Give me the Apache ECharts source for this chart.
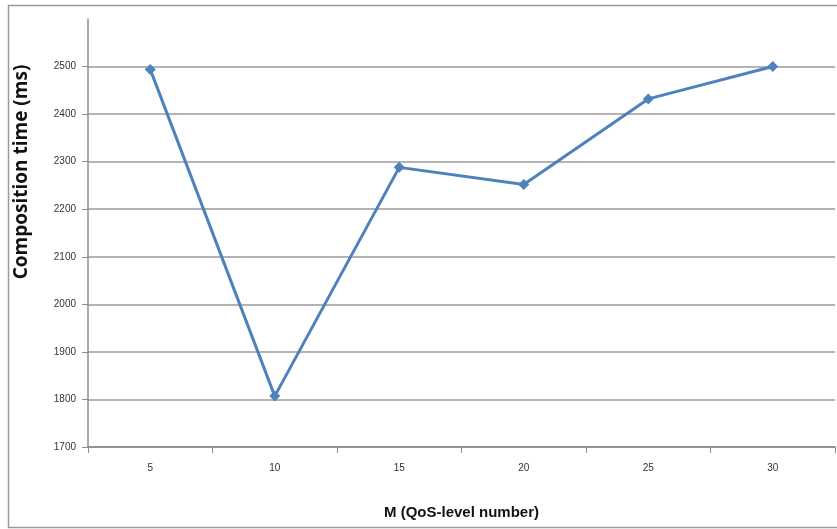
<!DOCTYPE html>
<html>
<head>
<meta charset="utf-8">
<script src="https://cdn.jsdelivr.net/npm/echarts@6/dist/echarts.min.js"></script>
<style>
  html, body { margin: 0; padding: 0; background: #fff; }
  #chart { width: 837px; height: 529px; }
</style>
</head>
<body>
<div id="chart"></div>
<script>
// QoS-level count M and the measured composition time for each
const levels = ['5', '10', '15', '20', '25', '30'];
const compositionTime = [2494, 1807, 2288, 2252, 2432, 2500];
const yTickValues = [1700, 1800, 1900, 2000, 2100, 2200, 2300, 2400, 2500];
const yRange = { min: 1700, max: 2600, step: 100 };

const chart = echarts.init(document.getElementById('chart'));
const font = '"Liberation Sans", sans-serif';

chart.setOption({
  animation: false,
  graphic: [{
    type: 'rect',
    shape: { x: 8.5, y: 5.5, width: 840, height: 522 },
    style: { fill: 'none', stroke: '#9a9a9a', lineWidth: 1.5 },
    silent: true
  }, {
    type: 'text',
    x: 22,
    y: 172,
    rotation: Math.PI / 2,
    style: {
      text: 'Composition time (ms)',
      font: 'bold 19px "Open Sans", sans-serif',
      fill: '#111',
      align: 'center',
      verticalAlign: 'middle'
    },
    silent: true
  }],
  grid: { left: 88, right: 2, top: 19, bottom: 82 },
  xAxis: {
    type: 'category',
    data: levels,
    boundaryGap: true,
    name: 'M (QoS-level number)',
    nameLocation: 'middle',
    nameGap: 58,
    nameTextStyle: { fontFamily: font, fontSize: 15, fontWeight: 'bold', color: '#111' },
    axisLine: { lineStyle: { color: '#8c8c8c', width: 1.5 } },
    axisTick: { show: true, alignWithLabel: false, length: 6, lineStyle: { color: '#8c8c8c' } },
    axisLabel: { fontFamily: font, fontSize: 10, color: '#333', margin: 16 },
    splitLine: { show: false }
  },
  yAxis: {
    type: 'value',
    min: yRange.min,
    max: yRange.max,
    interval: yRange.step,
    axisLine: { show: true, lineStyle: { color: '#8c8c8c', width: 1.5 } },
    axisTick: { show: true, length: 6, lineStyle: { color: '#8c8c8c' }, customValues: yTickValues },
    axisLabel: {
      fontFamily: font, fontSize: 10, color: '#333', margin: 12,
      customValues: yTickValues,
      formatter: v => String(v)
    },
    splitLine: {
      show: true,
      lineStyle: { color: '#9a9a9a', width: 1.5 }
    }
  },
  series: [{
    type: 'line',
    data: compositionTime,
    symbol: 'diamond',
    symbolSize: 11,
    lineStyle: { color: '#4f81bd', width: 3 },
    itemStyle: { color: '#4f81bd' }
  }]
});
</script>
</body>
</html>
